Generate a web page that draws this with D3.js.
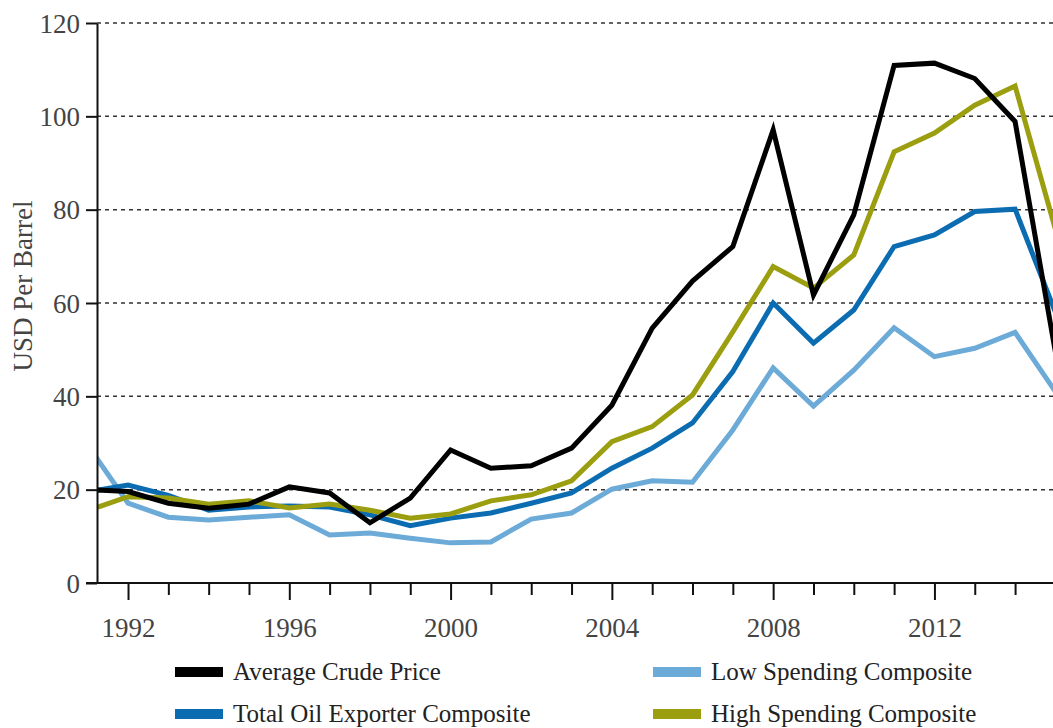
<!DOCTYPE html>
<html>
<head>
    <meta charset="utf-8">
    <title>Oil Price Composites</title>
    <script type="text/javascript" src="https://cdn.jsdelivr.net/npm/d3@7/dist/d3.min.js"></script>
    <style type="text/css">
        body { margin: 0; background: #fff; }
        text { font-family: "Liberation Serif", "Times New Roman", serif; fill: #444; }
        .grid line { stroke: #333; stroke-width: 1.5; stroke-dasharray: 4,4; }
        .axis path, .axis line { stroke: #111; stroke-width: 2; }
        .series { fill: none; stroke-width: 5; }
    </style>
</head>
<body>
<script type="text/javascript">
    var years = d3.range(1991, 2016);

    var avgCrude    = [20.0, 19.6, 17.1, 16.0, 16.9, 20.6, 19.3, 12.9, 18.2, 28.5, 24.6, 25.1, 28.9,
                       38.1, 54.6, 64.7, 72.1, 97.1, 61.7, 78.9, 110.9, 111.4, 108.1, 98.9, 49.5];
    var totalOil    = [19.5, 21.0, 18.8, 15.6, 16.3, 16.5, 16.3, 14.6, 12.3, 13.9, 15.0, 17.1, 19.3,
                       24.6, 28.9, 34.3, 45.3, 60.0, 51.4, 58.5, 72.1, 74.6, 79.6, 80.1, 58.0];
    var lowSpend    = [29.5, 17.1, 14.1, 13.5, 14.1, 14.6, 10.3, 10.7, 9.6, 8.6, 8.8, 13.7, 15.0,
                       20.1, 21.9, 21.6, 32.8, 46.1, 37.9, 45.6, 54.7, 48.5, 50.3, 53.7, 41.0];
    var highSpend   = [15.5, 18.5, 18.2, 16.9, 17.6, 16.1, 16.9, 15.6, 13.9, 14.8, 17.6, 18.9, 21.9,
                       30.3, 33.5, 40.3, 53.8, 67.8, 63.2, 70.3, 92.4, 96.4, 102.4, 106.5, 75.8];

    var yTicks = [0, 20, 40, 60, 80, 100, 120];
    var majorYears = [1992, 1996, 2000, 2004, 2008, 2012];

    var seriesNames  = ["Average Crude Price", "Total Oil Exporter Composite",
                        "Low Spending Composite", "High Spending Composite"];
    var seriesColors = ["#000000", "#0b6cb1", "#6caad8", "#9b9e0f"];
    var seriesValues = [avgCrude, totalOil, lowSpend, highSpend];

    var w = 1053, h = 728,
        plotLeft = 97, plotRight = 1053, plotTop = 23, plotBottom = 583;

    var x = d3.scaleLinear().domain([1991, 2015]).range([87.7, 1055.4]);
    var y = d3.scaleLinear().domain([0, 120]).range([plotBottom, plotTop]);

    var svg = d3.select("body").append("svg")
        .attr("width", w)
        .attr("height", h);

    svg.append("defs").append("clipPath").attr("id", "plot")
        .append("rect")
        .attr("x", plotLeft).attr("y", 0)
        .attr("width", plotRight - plotLeft).attr("height", plotBottom + 5);

    // dotted grid
    svg.append("g").attr("class", "grid")
        .selectAll("line")
        .data(yTicks.slice(1))
        .enter().append("line")
        .attr("x1", plotLeft).attr("x2", plotRight)
        .attr("y1", function (d) {return y(d);})
        .attr("y2", function (d) {return y(d);});

    // lines, drawn back to front
    var order = [2, 1, 3, 0];
    var line = d3.line()
        .x(function (d, i) {return x(years[i]);})
        .y(function (d) {return y(d);});

    svg.append("g").attr("clip-path", "url(#plot)")
        .selectAll("path")
        .data(order)
        .enter().append("path")
        .attr("class", "series")
        .attr("stroke", function (k) {return seriesColors[k];})
        .attr("d", function (k) {return line(seriesValues[k]);});

    // y axis
    var yAxis = svg.append("g").attr("class", "axis")
        .attr("transform", "translate(" + plotLeft + ",0)")
        .call(d3.axisLeft(y).tickValues(yTicks).tickSize(11).tickSizeOuter(0).tickPadding(6));
    yAxis.selectAll("text")
        .style("font-size", "27px")
        .attr("dy", null)
        .attr("y", 9);

    // x axis
    var xAxis = svg.append("g").attr("class", "axis")
        .attr("transform", "translate(0," + plotBottom + ")")
        .call(d3.axisBottom(x).tickValues(years.slice(1)).tickSizeOuter(0)
            .tickFormat(function (d) {return majorYears.indexOf(d) >= 0 ? d : "";}));
    xAxis.select(".domain").attr("d", "M86,0H" + plotRight);
    xAxis.selectAll(".tick line")
        .attr("y2", function (d) {return majorYears.indexOf(d) >= 0 ? 17 : 12;});
    xAxis.selectAll(".tick text")
        .style("font-size", "27px")
        .attr("dy", null)
        .attr("y", 54);

    // y title
    svg.append("text")
        .attr("transform", "translate(32,286) rotate(-90)")
        .attr("text-anchor", "middle")
        .style("font-size", "27px")
        .text("USD Per Barrel");

    // legend
    var legendPos = [[175, 667], [175, 709], [653, 667], [653, 709]];
    var legend = svg.append("g").selectAll("g")
        .data(seriesNames)
        .enter().append("g")
        .attr("transform", function (d, i) {return "translate(" + legendPos[i][0] + "," + legendPos[i][1] + ")";});
    legend.append("rect")
        .attr("width", 48).attr("height", 10)
        .attr("fill", function (d, i) {return seriesColors[i];});
    legend.append("text")
        .attr("x", 58).attr("y", 13)
        .style("font-size", "25px")
        .style("fill", "#222")
        .text(function (d) {return d;});
</script>
</body>
</html>
